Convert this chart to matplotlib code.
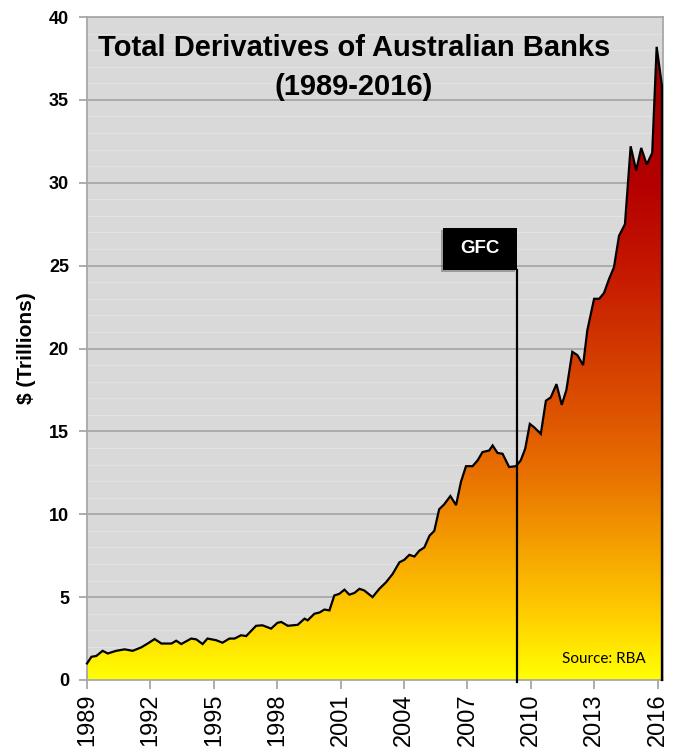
"""
Total derivatives of Australian banks, 1989-2016 (source: RBA).
Area chart with a yellow-to-red vertical gradient and a GFC marker.
"""

import numpy as np
import matplotlib
matplotlib.use("Agg")
import matplotlib.pyplot as plt
from matplotlib.colors import LinearSegmentedColormap
from matplotlib.patches import Rectangle
from matplotlib.ticker import MultipleLocator

# Data (decimal year, $ trillions)
years = [
    1989.00, 1989.21, 1989.44, 1989.74, 1989.98, 1990.38, 1990.78, 1991.16,
    1991.57, 1991.87, 1992.20, 1992.52, 1993.00, 1993.22, 1993.46, 1993.93,
    1994.17, 1994.47, 1994.70, 1995.11, 1995.41, 1995.74, 1995.98, 1996.29,
    1996.53, 1997.00, 1997.30, 1997.71, 1998.01, 1998.19, 1998.50, 1998.97,
    1999.29, 1999.44, 1999.76, 2000.00, 2000.23, 2000.47, 2000.70, 2000.94,
    2001.18, 2001.41, 2001.65, 2001.89, 2002.12, 2002.51, 2002.83, 2003.15,
    2003.46, 2003.78, 2004.01, 2004.25, 2004.49, 2004.72, 2004.96, 2005.20,
    2005.43, 2005.66, 2005.90, 2006.19, 2006.46, 2006.69, 2006.93, 2007.24,
    2007.48, 2007.71, 2008.03, 2008.19, 2008.42, 2008.66, 2008.97, 2009.29,
    2009.52, 2009.73, 2009.95, 2010.15, 2010.47, 2010.71, 2010.94, 2011.21,
    2011.46, 2011.68, 2011.96, 2012.20, 2012.47, 2012.67, 2012.99, 2013.23,
    2013.46, 2013.70, 2013.93, 2014.17, 2014.45, 2014.72, 2014.98, 2015.22,
    2015.48, 2015.74, 2015.95, 2016.20,
]
totals = [
    1.00, 1.40, 1.45, 1.76, 1.60, 1.76, 1.85, 1.76,
    1.97, 2.20, 2.47, 2.20, 2.20, 2.37, 2.17, 2.50,
    2.45, 2.17, 2.50, 2.40, 2.25, 2.50, 2.50, 2.70,
    2.65, 3.27, 3.30, 3.10, 3.45, 3.50, 3.27, 3.33,
    3.70, 3.60, 4.00, 4.07, 4.25, 4.20, 5.10, 5.20,
    5.45, 5.15, 5.25, 5.50, 5.40, 5.00, 5.50, 5.90,
    6.40, 7.10, 7.25, 7.55, 7.45, 7.80, 8.00, 8.70,
    9.00, 10.30, 10.60, 11.10, 10.55, 11.95, 12.90, 12.90,
    13.25, 13.75, 13.85, 14.15, 13.70, 13.65, 12.85, 12.90,
    13.25, 13.95, 15.45, 15.25, 14.85, 16.85, 17.05, 17.85,
    16.60, 17.50, 19.80, 19.60, 19.00, 21.10, 23.00, 23.00,
    23.35, 24.20, 24.90, 26.80, 27.50, 32.20, 30.75, 32.10,
    31.10, 31.80, 38.20, 35.85,
]

major_years = list(range(1989, 2017, 3))
minor_years = list(range(1989, 2017))
y_ticks = [0, 5, 10, 15, 20, 25, 30, 35, 40]

gfc_year = 2009.35
gfc_label = "GFC"
title_1 = "Total Derivatives of Australian Banks"
title_2 = "(1989-2016)"
source = "Source: RBA"

# Gradient colours by value (yellow at 0 to dark red at the peak)
grad_stops = [0, 4, 8, 12, 16, 20, 25, 30, 38.5]
grad_colors = ["#ffff00", "#ffcc00", "#f5a000", "#ea7400", "#de5400",
               "#d23800", "#c41600", "#b40000", "#9a0000"]

x = np.array(years)
y = np.array(totals)
x_end = 2016.25

fig = plt.figure(figsize=(6.81, 7.56), dpi=100)
ax = fig.add_axes([87 / 681, 1 - 680 / 756, (663 - 87) / 681, (680 - 17) / 756])
ax.set_facecolor("#d9d9d9")

# gradient image clipped by the area under the curve
cmap = LinearSegmentedColormap.from_list(
    "deriv", list(zip(np.array(grad_stops) / grad_stops[-1], grad_colors)))
grad = np.linspace(0, 1, 400).reshape(-1, 1)
img = ax.imshow(grad, cmap=cmap, origin="lower", aspect="auto",
                extent=[1989, x_end, 0, grad_stops[-1]], zorder=2)
poly = ax.fill_between(x, 0, y, facecolor="none", edgecolor="none", zorder=2)
img.set_clip_path(poly.get_paths()[0], transform=ax.transData)
ax.set_xlim(1989, x_end)
ax.set_ylim(0, 40)

# outline, closed down to the axis on the right side
ax.plot(np.append(x, x[-1]), np.append(y, 0), color="black", lw=1.6,
        zorder=3, solid_joinstyle="miter", clip_on=False)

# grid
ax.yaxis.set_major_locator(plt.FixedLocator(y_ticks))
ax.yaxis.set_minor_locator(MultipleLocator(1))
ax.grid(which="major", axis="y", color="#a8a8a8", lw=1.3)
ax.grid(which="minor", axis="y", color="#e2e2e2", lw=0.8)
ax.set_axisbelow(True)

# ticks
ax.set_xticks(major_years)
ax.set_xticks(minor_years, minor=True)
ax.set_xticklabels([str(v) for v in major_years], rotation=90,
                   fontsize=17, family="Liberation Sans")
ax.set_yticklabels([str(v) for v in y_ticks], fontsize=13,
                   fontweight="bold", family="Liberation Sans")
ax.tick_params(axis="x", which="major", direction="inout", length=13,
               width=1.2, color="#a0a0a0", pad=3)
ax.tick_params(axis="x", which="minor", direction="in", length=6,
               width=1.2, color="#a0a0a0")
ax.tick_params(axis="y", which="major", direction="out", length=6,
               width=1.2, color="#a0a0a0", pad=7)
ax.tick_params(axis="y", which="minor", length=0)
for s in ax.spines.values():
    s.set_color("#a8a8a8")
    s.set_linewidth(1.3)

ax.set_ylabel("$ (Trillions)", fontsize=15, fontweight="bold",
              family="Liberation Sans", labelpad=9)

# GFC marker: line from the axis up to a black label box with a soft shadow
box_w, box_h = 3.5, 2.55
ax.plot([gfc_year, gfc_year], [-0.1, 24.75], color="black", lw=1.6,
        zorder=4, clip_on=False)
ax.add_patch(Rectangle((gfc_year - box_w - 0.08, 24.6), box_w, box_h,
                       facecolor="#505050", alpha=0.45, edgecolor="none", zorder=4))
ax.add_patch(Rectangle((gfc_year - box_w, 24.75), box_w, box_h,
                       facecolor="black", edgecolor="none", zorder=5))
ax.text(gfc_year - box_w / 2, 24.75 + box_h / 2, gfc_label, color="white",
        fontsize=13.5, fontweight="bold", family="Liberation Sans",
        ha="center", va="center", zorder=6)

ax.text(0.4635, 0.953, title_1, transform=ax.transAxes, ha="center",
        va="center", fontsize=21, fontweight="bold",
        family="Liberation Sans", zorder=6)
ax.text(0.4635, 0.894, title_2, transform=ax.transAxes, ha="center",
        va="center", fontsize=21, fontweight="bold",
        family="Liberation Sans", zorder=6)
ax.text(2015.45, 1.27, source, ha="right", va="center", fontsize=11,
        family="Lato", zorder=6)

fig.savefig("out.png", dpi=100)
